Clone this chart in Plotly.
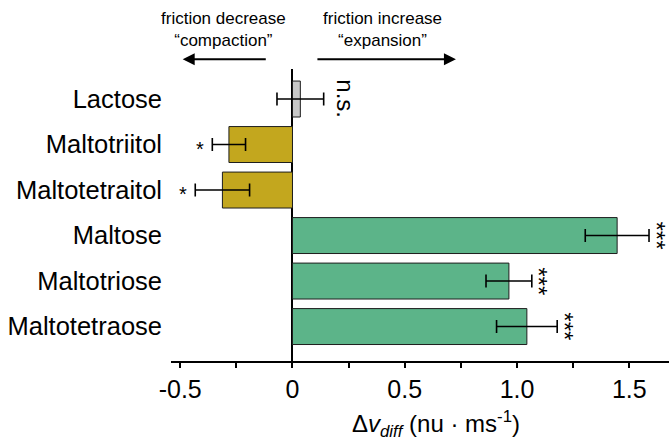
import plotly.graph_objects as go

# Sugars, listed top to bottom
categories = ["Lactose", "Maltotriitol", "Maltotetraitol",
              "Maltose", "Maltotriose", "Maltotetraose"]
delta_v = [0.035, -0.283, -0.312, 1.446, 0.964, 1.044]
sem = [0.104, 0.074, 0.121, 0.142, 0.102, 0.135]
significance = ["n.s.", "*", "*", "***", "***", "***"]
bar_colors = ["#c8c8c8", "#c3a71e", "#c3a71e", "#5cb489", "#5cb489", "#5cb489"]

tick_vals = [-0.5, -0.25, 0, 0.25, 0.5, 0.75, 1.0, 1.25, 1.5]
tick_text = ["-0.5", "", "0", "", "0.5", "", "1.0", "", "1.5"]

FONT = "Arial, Liberation Sans, Helvetica, sans-serif"

fig = go.Figure()
fig.add_trace(go.Bar(
    x=delta_v,
    y=categories,
    orientation="h",
    width=0.79,
    marker=dict(color=bar_colors, line=dict(color="#1e1e1e", width=1)),
    error_x=dict(type="data", array=sem, visible=True,
                 color="black", thickness=1.6, width=6.5),
    showlegend=False,
))

annotations = []
# significance marks next to the error bars
for cat, v, e, s in zip(categories, delta_v, sem, significance):
    if s == "*":
        annotations.append(dict(
            x=v - e, y=cat, xref="x", yref="y", text=s, showarrow=False,
            xanchor="center", yanchor="middle", xshift=-12, yshift=-4,
            font=dict(size=20, color="black", family=FONT)))
    elif s == "n.s.":
        annotations.append(dict(
            x=v + e, y=cat, xref="x", yref="y", text=s, showarrow=False,
            textangle=90, xanchor="center", yanchor="middle", xshift=22,
            font=dict(size=24, color="black", family=FONT)))
    else:
        annotations.append(dict(
            x=v + e, y=cat, xref="x", yref="y", text=s, showarrow=False,
            textangle=90, xanchor="center", yanchor="middle", xshift=7,
            font=dict(size=24, color="black", family=FONT)))

# direction captions and arrows above the plot
annotations += [
    dict(x=-0.305, y=1.135, xref="x", yref="paper",
         text="friction decrease<br>“compaction”", showarrow=False,
         xanchor="center", yanchor="middle", align="center",
         font=dict(size=17, color="black", family=FONT)),
    dict(x=0.4, y=1.135, xref="x", yref="paper",
         text="friction increase<br>“expansion”", showarrow=False,
         xanchor="center", yanchor="middle", align="center",
         font=dict(size=17, color="black", family=FONT)),
    dict(x=-0.489, y=1.0333, xref="x", yref="paper", text="",
         showarrow=True, ax=84.6, ay=0, arrowhead=2, arrowsize=1.2,
         arrowwidth=2, arrowcolor="black", standoff=0, startstandoff=0),
    dict(x=0.728, y=1.0333, xref="x", yref="paper", text="",
         showarrow=True, ax=-140, ay=0, arrowhead=2, arrowsize=1.2,
         arrowwidth=2, arrowcolor="black", standoff=0, startstandoff=0),
    # x-axis title
    dict(x=0.532, y=-0.215, xref="paper", yref="paper",
         text="Δ<i>v</i><sub><i>diff</i></sub> (nu · ms<sup>-1</sup>)",
         showarrow=False, xanchor="center", yanchor="middle",
         font=dict(size=24, color="black", family=FONT)),
]

fig.update_layout(
    width=669, height=440,
    margin=dict(l=171, r=0, t=69, b=79),
    paper_bgcolor="white", plot_bgcolor="white",
    font=dict(family=FONT, color="black", size=24),
    annotations=annotations,
    bargap=0.21,
)
fig.update_xaxes(
    range=[-0.541, 1.677],
    tickmode="array", tickvals=tick_vals, ticktext=tick_text,
    ticks="outside", ticklen=5, tickwidth=1.5, tickcolor="black",
    showline=True, linecolor="black", linewidth=1.5,
    showgrid=False,
    zeroline=True, zerolinecolor="black", zerolinewidth=1.8,
    tickfont=dict(size=25, family=FONT, color="black"),
)
fig.update_yaxes(
    categoryorder="array", categoryarray=categories,
    range=[5.757, -0.66],
    showgrid=False, showline=False, zeroline=False, ticks="",
    ticklabelstandoff=8,
    tickfont=dict(size=25.5, family=FONT, color="black"),
)

fig.write_html("out.html")
